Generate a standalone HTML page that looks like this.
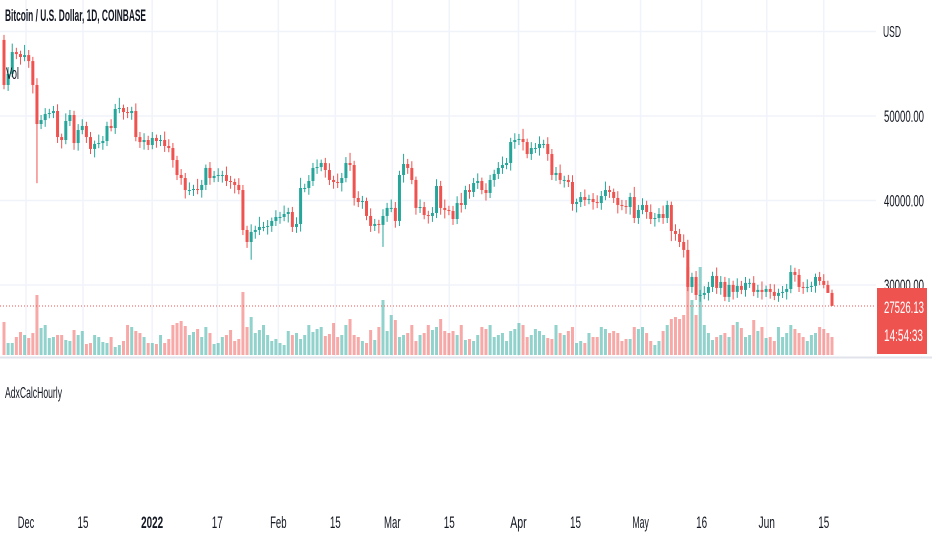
<!DOCTYPE html>
<html><head><meta charset="utf-8">
<style>
html,body{margin:0;padding:0;background:#fff;width:932px;height:550px;overflow:hidden}
svg{display:block;font-family:"Liberation Sans",sans-serif}
</style></head>
<body>
<svg id="chart" width="932" height="550" viewBox="0 0 932 550" xmlns="http://www.w3.org/2000/svg">
  <rect x="0" y="0" width="932" height="550" fill="#ffffff"/>
  <g id="grid"></g>
  <g id="vol"></g>
  <g id="candles"></g>
  <line x1="0" y1="306" x2="876" y2="306" stroke="#ef5350" stroke-width="1" stroke-dasharray="1,2"/>
  <line x1="0" y1="357.5" x2="932" y2="357.5" stroke="#e0e3eb" stroke-width="2"/>
  <text x="5" y="21" font-size="17" font-weight="bold" textLength="141" lengthAdjust="spacingAndGlyphs" fill="#131722">Bitcoin / U.S. Dollar, 1D, COINBASE</text>
  <text x="6" y="79" font-size="17" textLength="13" lengthAdjust="spacingAndGlyphs" fill="#131722">Vol</text>
  <text x="5" y="398" font-size="16" textLength="57" lengthAdjust="spacingAndGlyphs" fill="#131722">AdxCalcHourly</text>
  <text x="883" y="37" font-size="16" textLength="18" lengthAdjust="spacingAndGlyphs" fill="#131722">USD</text>
  <g id="yaxis"></g>
  <g id="xaxis"></g>
  <rect x="877" y="288" width="50" height="66" fill="#ef5350"/>
  <text x="884" y="313" font-size="17" textLength="40" lengthAdjust="spacingAndGlyphs" fill="#ffffff">27526.13</text>
  <text x="884" y="341" font-size="17" textLength="39" lengthAdjust="spacingAndGlyphs" fill="#ffffff">14:54:33</text>
</svg>
<script>
const closes = [53670,55000,57570,57330,56980,57210,56500,53670,49050,49520,50230,50350,50590,47510,47160,49410,50120,46800,48340,48820,47510,46100,46690,46800,47040,48820,48580,50830,50950,50470,50350,50590,47510,46920,
47160,46570,47400,47040,47160,46450,46210,44790,43020,42660,
41240,41240,41360,41240,41840,43850,42660,42900,43020,43020,
42310,42190,41840,41240,36510,35090,36280,36510,36870,36870,
36990,37580,38050,38050,38400,38640,36870,37220,41480,41480,
42310,43850,43960,44440,43610,42430,42190,42070,42660,44440,
44200,40300,39820,39940,38170,36990,37220,37110,38170,39120,
39120,37580,43020,44320,43850,42430,39120,39230,38280,38170,
38520,41720,39120,38880,38760,37810,39700,39470,41240,41010,
42070,42310,41240,40890,42430,43140,43850,44200,44440,46920,
47160,47280,46920,45500,46210,46210,46690,46690,45500,43020,
43260,42430,42430,42190,39590,39820,40410,40060,40180,39820,
39700,40530,41240,41010,40300,39470,39350,39230,40410,37930,
38880,39470,38640,37810,37930,38400,37930,39470,36390,36040,
35090,34150,29770,30950,28820,28820,29060,29770,31070,29650,
30360,28590,30010,29180,29890,29420,30250,30250,29180,29420,
29180,29530,29180,28710,29060,29180,29530,31540,31190,29770,
29650,29770,29890,30950,30480,30010,29060,27530];
const firstOpen = 59000;
const volumes = [33,12,12,18,23,20,17,22,60,27,30,17,18,20,20,15,14,25,20,24,11,12,20,18,13,12,18,8,10,14,30,28,24,22,
18,12,12,11,20,12,16,30,32,34,
29,20,23,26,18,28,22,11,12,18,
20,25,14,16,63,28,38,22,25,30,
20,14,16,12,10,24,20,22,16,20,
30,23,26,28,19,21,32,18,20,30,
36,20,18,14,12,25,15,28,55,24,
40,35,18,20,22,30,14,20,22,30,
25,28,36,24,22,24,20,30,15,16,
14,20,28,26,30,18,20,22,14,24,
26,32,30,18,20,26,24,20,17,16,
30,22,20,24,28,12,14,12,22,18,
18,28,26,22,24,22,14,16,16,28,
26,28,22,14,10,14,24,30,36,38,
36,40,88,55,40,88,30,22,15,18,
20,22,18,30,33,27,18,20,35,24,
28,17,18,14,28,18,22,30,26,22,
18,14,20,22,28,26,22,18];
const wickHi = [6,8,10,5,4,12,6,5,8,6,7,5,6,8,4,9,6,5,7,8,5,6,4,10,6,5,8,6,12,4,6,5,9,6,8,5,7,4,6,10,
8,6,5,7,6,9,5,12,6,4,7,6,8,5,10,6,4,8,6,5,9,5,12,6,7,4,8,6,10,5,6,8,12,5,7,6,9,4,6,8,
5,10,6,7,12,5,8,6,4,9,6,5,8,6,10,7,5,12,6,8,4,9,6,5,7,8,6,10,5,6,8,12,5,7,6,9,4,8,6,5,
7,10,6,5,8,6,12,4,7,6,9,5,8,6,7,10,5,6,8,4,6,9,5,7,8,6,10,5,4,8,6,7,5,12,6,8,5,9,6,7,
10,5,4,8,6,9,12,5,7,6,8,6,5,10,7,6,8,5,9,6,7,5,8,6,10,4,6,9,5,7,6,8,5,7,6,9,5,4,6,8,5,4];
const wickLo = [5,7,4,6,9,5,8,10,70,6,8,5,6,7,10,5,6,8,9,5,7,6,10,5,8,6,4,7,5,9,6,8,5,7,9,6,5,8,6,7,
5,9,6,8,10,6,7,5,9,6,8,5,7,9,6,8,10,5,6,7,21,8,6,5,9,7,6,8,5,10,6,7,9,5,8,6,7,5,9,6,
8,6,10,5,7,9,6,8,5,7,6,10,26,7,5,8,6,9,7,5,8,6,5,9,7,6,8,10,5,7,6,9,5,8,6,7,5,9,6,8,
6,7,5,9,8,6,10,5,7,6,9,5,8,6,7,5,9,6,8,10,6,7,5,9,6,8,5,7,6,10,5,8,9,6,7,5,8,6,9,5,
7,6,12,8,6,9,5,7,6,8,5,9,6,7,8,5,6,9,7,5,8,6,5,7,9,6,8,5,7,6,9,5,8,6,7,5,6,8,5,4];
const priceTicks = [60000,50000,40000,30000];
const priceTickLabels = ["","50000.00","40000.00","30000.00"];
const timeLabels = ["Dec","15","2022","17","Feb","15","Mar","15","Apr","15","May","16","Jun","15"];
const timeDayIdx = [0,14,31,47,62,76,90,104,121,135,151,166,182,196];

const NS="http://www.w3.org/2000/svg";
function mk(tag,attrs,parent){const e=document.createElementNS(NS,tag);for(const k in attrs)e.setAttribute(k,attrs[k]);parent.appendChild(e);return e;}
const N=closes.length;
const X0=4, X1=832;
function xAt(i){return X0+(X1-X0)*i/(N-1);}
function yAt(p){return 116+(50000-p)*0.00845;}
function xDay(d){return 26+d*4.07;}
const volBase=355;
function vH(v){return v*1.0;}

const grid=document.getElementById('grid');
priceTicks.forEach((p,k)=>{
  const l=mk('line',{x1:0,x2:876,y1:yAt(p),y2:yAt(p),stroke:'#f0f3fa','stroke-width':1.5},grid);
  
  
});
timeDayIdx.forEach(d=>{
  const l=mk('line',{x1:xDay(d),x2:xDay(d),y1:0,y2:356,stroke:'#f0f3fa','stroke-width':1.5},grid);
  
  
});

const vol=document.getElementById('vol'), cg=document.getElementById('candles');
const bw=3;
for(let i=0;i<N;i++){
  const o=i===0?firstOpen:closes[i-1], c=closes[i];
  const up=c>=o;
  const col=up?'#26a69a':'#ef5350';
  const x=xAt(i);
  const v=volumes[i]||0;
  const r=mk('rect',{x:x-bw/2,y:volBase-vH(v),width:bw,height:vH(v),fill:up?'rgba(38,166,154,0.5)':'rgba(239,83,80,0.5)'},vol);
  
  
  const hi=Math.max(o,c)+(wickHi[i]||0)*100, lo=Math.min(o,c)-(wickLo[i]||0)*100;
  const w=mk('line',{x1:x,x2:x,y1:yAt(hi),y2:yAt(lo),stroke:col,'stroke-width':1},cg);
  
  
  const yt=yAt(Math.max(o,c)), yb=yAt(Math.min(o,c));
  const b=mk('rect',{x:x-bw/2,y:yt,width:bw,height:Math.max(1,yb-yt),fill:col},cg);
  
  
}

const ya=document.getElementById('yaxis');
priceTicks.forEach((p,k)=>{
  if(!priceTickLabels[k])return;
  const t=mk('text',{x:884,y:yAt(p)+6,'font-size':17,textLength:40,lengthAdjust:'spacingAndGlyphs',fill:'#131722'},ya);
  t.textContent=priceTickLabels[k];
  
  
});
const xa=document.getElementById('xaxis');
timeLabels.forEach((s,k)=>{
  const t=mk('text',{x:xDay(timeDayIdx[k]),y:528,'font-size':17,'text-anchor':'middle',textLength:s.length*5.5,lengthAdjust:'spacingAndGlyphs',fill:'#131722','font-weight':s==='2022'?'bold':'normal'},xa);
  t.textContent=s;
  
  
});
</script>
</body></html>
